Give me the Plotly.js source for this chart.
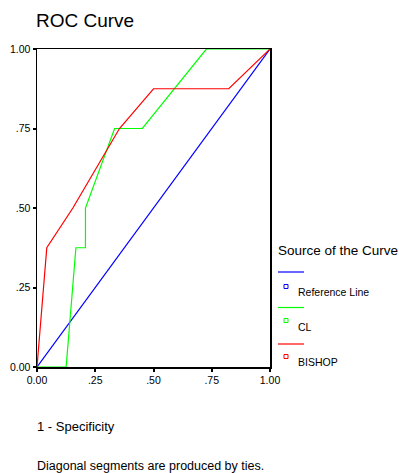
<!DOCTYPE html>
<html>
<head>
<meta charset="utf-8">
<script src="https://cdn.plot.ly/plotly-3.0.1.min.js"></script>
<style>html,body{margin:0;padding:0;background:#fff;}#chart{width:399px;height:473px;}</style>
</head>
<body>
<div id="chart"></div>
<script>
// Data
const refX = [0, 1];
const refY = [0, 1];
const clX = [0, 0.125, 0.167, 0.208, 0.208, 0.333, 0.452, 0.727, 1];
const clY = [0, 0, 0.375, 0.375, 0.5, 0.75, 0.75, 1, 1];
const bishopX = [0, 0.042, 0.154, 0.354, 0.5, 0.823, 1];
const bishopY = [0, 0.375, 0.5, 0.75, 0.875, 0.875, 1];
const tickVals = [0, 0.25, 0.5, 0.75, 1];
const tickText = ['0.00', '.25', '.50', '.75', '1.00'];
const seriesNames = ['Reference Line', 'CL', 'BISHOP'];
const seriesColors = ['#0000ff', '#00ff00', '#ff0000'];

const W = 399, H = 473;
const L = 37, R = 129, T = 49, B = 106;
const pw = W - L - R, ph = H - T - B;
const px = x => (x - L) / pw;           // pixel -> paper x
const py = y => (H - B - y) / ph;       // pixel -> paper y

const FONT = '"Liberation Sans", Arial, sans-serif';

const traces = [
  {x: refX, y: refY, mode: 'lines', name: seriesNames[0], line: {color: seriesColors[0], width: 1.2}},
  {x: clX, y: clY, mode: 'lines', name: seriesNames[1], line: {color: seriesColors[1], width: 1.2}},
  {x: bishopX, y: bishopY, mode: 'lines', name: seriesNames[2], line: {color: seriesColors[2], width: 1.2}}
];

const shapes = [];
const annotations = [];
// custom legend (SPSS style)
const lineYs = [272, 307.5, 344];
const sqYs = [286.5, 320.5, 356.5];
const txtYs = [292, 326.5, 362];
for (let i = 0; i < 3; i++) {
  shapes.push({type: 'line', xref: 'paper', yref: 'paper', x0: px(278), x1: px(304), y0: py(lineYs[i]), y1: py(lineYs[i]),
    line: {color: seriesColors[i], width: 1.2}});
  shapes.push({type: 'rect', xref: 'paper', yref: 'paper', x0: px(284), x1: px(288), y0: py(sqYs[i] + 2), y1: py(sqYs[i] - 2),
    line: {color: seriesColors[i], width: 1}, fillcolor: 'rgba(0,0,0,0)'});
  annotations.push({xref: 'paper', yref: 'paper', x: px(296), y: py(txtYs[i]), xanchor: 'left', yanchor: 'middle',
    text: seriesNames[i], showarrow: false, font: {family: FONT, size: 10.5, color: '#000'}});
}
annotations.push({xref: 'paper', yref: 'paper', x: px(276), y: py(250), xanchor: 'left', yanchor: 'middle',
  text: 'Source of the Curve', showarrow: false, font: {family: FONT, size: 13.5, color: '#000'}});
annotations.push({xref: 'paper', yref: 'paper', x: px(35), y: py(426), xanchor: 'left', yanchor: 'middle',
  text: '1 - Specificity', showarrow: false, font: {family: FONT, size: 13, color: '#000'}});
annotations.push({xref: 'paper', yref: 'paper', x: px(35), y: py(466), xanchor: 'left', yanchor: 'middle',
  text: 'Diagonal segments are produced by ties.', showarrow: false, font: {family: FONT, size: 12.5, color: '#000'}});

const axisCommon = {
  range: [0, 1], tickvals: tickVals, ticktext: tickText, showgrid: false, zeroline: false,
  showline: true, linecolor: '#000', linewidth: 1.5, mirror: true,
  ticks: 'outside', ticklen: 3, tickwidth: 2, tickcolor: '#000',
  tickfont: {family: FONT, size: 10.5, color: '#000'}, fixedrange: true
};

const layout = {
  width: W, height: H,
  margin: {l: L, r: R, t: T, b: B, pad: 0},
  paper_bgcolor: '#fff', plot_bgcolor: '#fff',
  showlegend: false,
  title: {text: 'ROC Curve', x: 36 / W, xref: 'container', xanchor: 'left', y: 1 - 20 / H, yanchor: 'middle',
    font: {family: FONT, size: 19, color: '#000'}},
  xaxis: Object.assign({}, axisCommon, {title: {text: ''}}),
  yaxis: Object.assign({}, axisCommon, {title: {text: ''}}),
  shapes: shapes,
  annotations: annotations
};

Plotly.newPlot('chart', traces, layout, {displayModeBar: false, staticPlot: true});
</script>
</body>
</html>
